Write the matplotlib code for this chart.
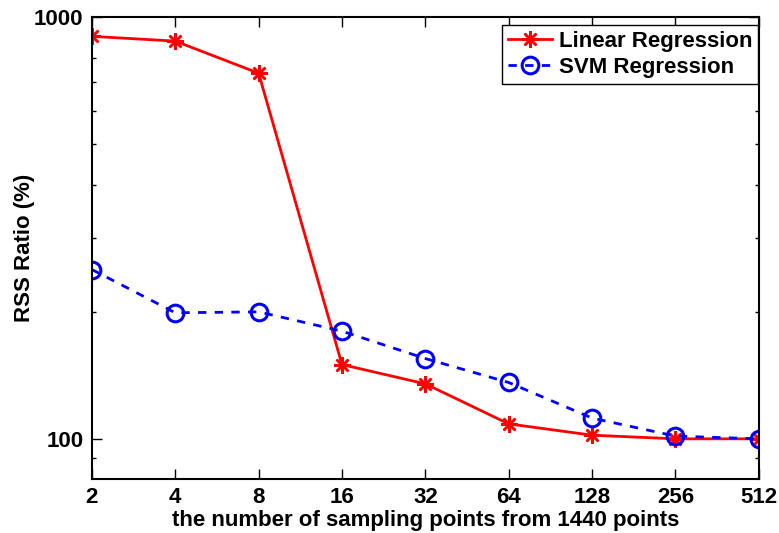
import matplotlib.pyplot as plt
from matplotlib.ticker import FixedLocator, FixedFormatter, LogLocator, NullFormatter

plt.rcParams['font.family'] = ['Liberation Sans', 'DejaVu Sans']
plt.rcParams['font.weight'] = 'bold'

# data
points = [2, 4, 8, 16, 32, 64, 128, 256, 512]
point_labels = ['2', '4', '8', '16', '32', '64', '128', '256', '512']
linear_rss = [900, 877, 736, 150, 135, 108.5, 102, 100, 100]
svm_rss = [252, 199, 200, 180, 155, 136, 112, 101.5, 100]

fig = plt.figure(figsize=(7.79, 5.33), dpi=100)
ax = fig.add_axes([0.118, 0.1013, 0.856, 0.8667])

ax.plot(points, linear_rss, color='red', lw=2, marker=(8, 2, 0),
        markersize=12, markeredgewidth=1.8, label='Linear Regression')
ax.plot(points, svm_rss, color='blue', lw=2, ls=(0, (3, 3)), marker='o',
        markersize=12, markerfacecolor='none', markeredgewidth=2.2,
        label='SVM Regression')

ax.set_xscale('log', base=2)
ax.set_yscale('log')
ax.set_xlim(2, 512)
ax.set_ylim(80.3, 1000)

ax.xaxis.set_major_locator(FixedLocator(points))
ax.xaxis.set_major_formatter(FixedFormatter(point_labels))
ax.xaxis.set_minor_locator(FixedLocator([]))
ax.yaxis.set_major_locator(FixedLocator([100, 1000]))
ax.yaxis.set_major_formatter(FixedFormatter(['100', '1000']))
ax.yaxis.set_minor_locator(LogLocator(base=10, subs=range(2, 10)))
ax.yaxis.set_minor_formatter(NullFormatter())

ax.tick_params(which='both', direction='in', top=True, right=True,
               labelsize=16, width=1)
ax.tick_params(which='major', length=7, pad=6)
ax.tick_params(which='minor', length=3)
for s in ax.spines.values():
    s.set_linewidth(1.5)

ax.set_xlabel('the number of sampling points from 1440 points', fontsize=16,
              fontweight='bold', labelpad=1)
ax.set_ylabel('RSS Ratio (%)', fontsize=16, fontweight='bold', labelpad=-1)

leg = ax.legend(loc='upper right', bbox_to_anchor=(758 / 779, 1 - 25 / 533),
                bbox_transform=fig.transFigure, borderaxespad=0,
                fontsize=16, fancybox=False, framealpha=1,
                edgecolor='black', handlelength=2.0, borderpad=0.25,
                labelspacing=0.25, handletextpad=0.3)
leg.get_frame().set_linewidth(1)

fig.savefig('out.png', dpi=100)
